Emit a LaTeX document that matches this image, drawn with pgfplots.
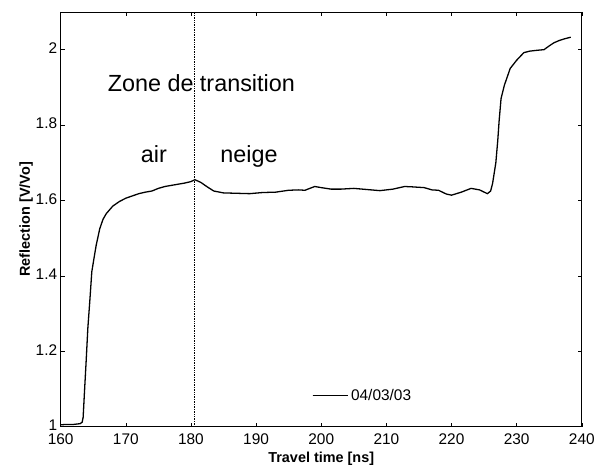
\documentclass[border=0pt]{standalone}
\usepackage{pgfplots}
\pgfplotsset{compat=1.18}
\usepackage{fontspec}
\setmainfont{Liberation Sans}
\begin{document}
\begin{tikzpicture}
\begin{axis}[
  scale only axis,
  width=524pt, height=417pt,
  xmin=160, xmax=240, ymin=1, ymax=2.1,
  xtick={160,170,...,240},
  ytick={1,1.2,1.4,1.6,1.8,2},
  tick align=inside,
  major tick length=4pt,
  axis line style={line width=0.8pt},
  every tick/.style={black, line width=0.6pt},
  tick label style={font=\fontsize{15.5}{18}\selectfont},
  /pgf/number format/assume math mode=true,
  xticklabel style={yshift=-4pt},
  yticklabel style={yshift=1.5pt},
  xlabel={\textbf{Travel time [ns]}},
  ylabel={\textbf{Reflection [V/Vo]}},
  label style={font=\fontsize{14.5}{17}\selectfont},
  xlabel style={yshift=0pt},
  ylabel style={yshift=-4pt},
  legend style={at={(axis cs:198.55,1.082)}, anchor=west, draw=none, fill=none,
    font=\fontsize{15.5}{18}\selectfont, inner sep=0pt},
  legend image code/.code={\draw[#1] (0pt,0pt) -- (30pt,0pt); \path (0pt,0pt) -- (36pt,0pt);},
]
\addplot[black, line width=1.3pt] coordinates {
(160,1.005) (161,1.006) (162,1.006) (163,1.008) (163.3,1.012) (163.45,1.025)
(163.66,1.094) (163.9,1.17) (164.17,1.261) (164.5,1.34) (164.78,1.411)
(165.1,1.445) (165.45,1.481) (166,1.525) (166.5,1.55) (167,1.565) (168,1.585)
(169,1.597) (170,1.606) (171,1.612) (172,1.618) (173,1.622) (174,1.625)
(175,1.632) (176,1.637) (177,1.640) (178,1.643) (179,1.646) (180,1.650)
(180.6,1.655) (181.5,1.648) (182.5,1.636) (183.5,1.625) (185,1.620) (187,1.619)
(189,1.618) (191,1.621) (193,1.622) (195,1.627) (196.5,1.628) (197.5,1.627)
(199,1.637) (200,1.634) (201.5,1.630) (203,1.630) (205,1.632) (207,1.629)
(209,1.626) (211,1.630) (212.8,1.637) (214,1.636) (215.8,1.634) (217,1.628)
(218,1.627) (219.2,1.617) (220,1.614) (221.5,1.622) (223,1.632) (224.3,1.628)
(225.5,1.618) (226,1.625) (226.3,1.645) (226.8,1.70) (227.1,1.76) (227.3,1.81)
(227.6,1.87) (228.1,1.905) (229,1.95) (230,1.972) (231.1,1.992) (232,1.996)
(233,1.998) (234.2,2.0) (235,2.01) (235.7,2.018) (236.5,2.024) (237.2,2.028)
(238.3,2.033)
};
\addlegendentry{04/03/03}
\addplot[black, densely dotted, line width=0.7pt, forget plot] coordinates {(180.55,1) (180.55,2.1)};
\node[anchor=base west, inner sep=0pt, font=\fontsize{23.5}{28}\selectfont] at (axis cs:167.2,1.889) {Zone de transition};
\node[anchor=base west, inner sep=0pt, font=\fontsize{23.5}{28}\selectfont] at (axis cs:172.3,1.701) {air};
\node[anchor=base west, inner sep=0pt, font=\fontsize{23.5}{28}\selectfont] at (axis cs:184.5,1.701) {neige};
\end{axis}
\path[use as bounding box] ([shift={(-61pt,-38pt)}]current axis.south west) rectangle ([shift={(13pt,12pt)}]current axis.north east);
\end{tikzpicture}
\end{document}
